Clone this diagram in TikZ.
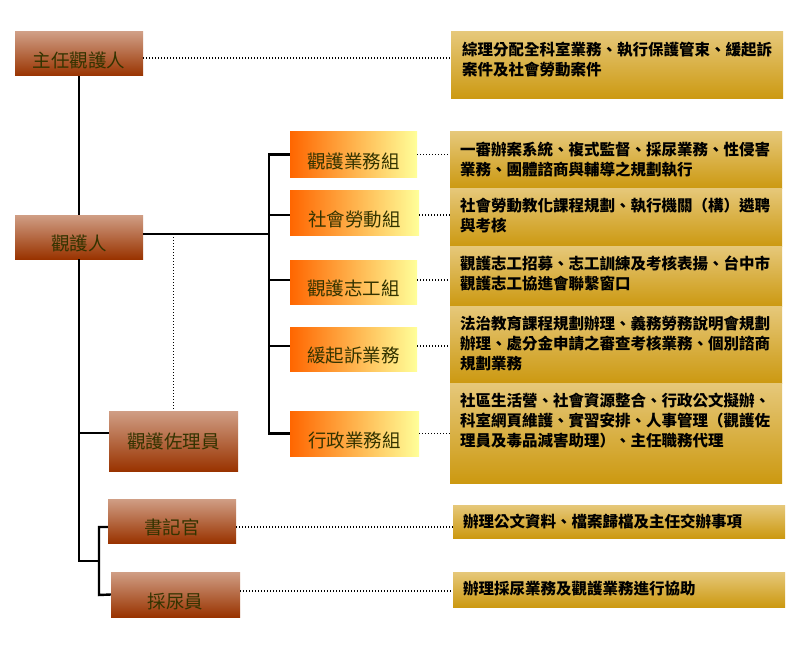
\documentclass[tikz,border=0pt]{standalone}
\usepackage{fontspec}
\setmainfont{Noto Sans CJK TC}
\definecolor{brtop}{RGB}{208,158,133}
\definecolor{brbot}{RGB}{153,51,0}
\definecolor{orl}{RGB}{255,102,0}
\definecolor{orr}{RGB}{255,255,153}
\definecolor{gdtop}{RGB}{230,200,122}
\definecolor{gdbot}{RGB}{204,153,17}
\definecolor{labtext}{RGB}{51,51,0}
\begin{document}
\begin{tikzpicture}[x=1pt,y=-1pt,
  trunk/.style={line width=2.4pt, black},
  dotline/.style={line width=1.3pt, black, dash pattern=on 1.2pt off 1.8pt},
  brownbox/.style={rectangle, inner sep=0pt, top color=brtop, bottom color=brbot, text=labtext, font=\fontsize{18.5}{20}\selectfont},
  orangebox/.style={rectangle, inner sep=0pt, left color=orl, right color=orr, text=labtext, font=\fontsize{18.5}{20}\selectfont},
  lowtext/.style={text height=29pt, text depth=2pt},
  goldbox/.style={rectangle, inner sep=0pt, top color=gdtop, bottom color=gdbot},
  goldtext/.style={anchor=north west, inner sep=0pt, align=left, text=black, font=\bfseries\fontsize{15.5}{20}\selectfont}
]
\fill[white] (0,0) rectangle (800,650);
\useasboundingbox (0,0) rectangle (800,650);

% left column boxes
\node[brownbox, lowtext, minimum width=128pt, minimum height=44pt] (boss) at (79,54) {主任觀護人};
\node[brownbox, lowtext, minimum width=128pt, minimum height=44pt] (po) at (79,237) {觀護人};
\node[brownbox, minimum width=129pt, minimum height=60pt] (asst) at (173.5,441) {觀護佐理員};
\node[brownbox, lowtext, minimum width=128pt, minimum height=44pt] (clerk) at (172,521) {書記官};
\node[brownbox, lowtext, minimum width=129pt, minimum height=45pt] (urine) at (175.5,594.5) {採尿員};

% group boxes
\node[orangebox, lowtext, minimum width=127pt, minimum height=45pt] (g1) at (353.5,154.5) {觀護業務組};
\node[orangebox, lowtext, minimum width=129pt, minimum height=45pt] (g2) at (354.5,212.5) {社會勞動組};
\node[orangebox, lowtext, minimum width=127pt, minimum height=44pt] (g3) at (353.5,282) {觀護志工組};
\node[orangebox, lowtext, minimum width=127pt, minimum height=44pt] (g4) at (353.5,349) {緩起訴業務};
\node[orangebox, lowtext, minimum width=129pt, minimum height=45pt] (g5) at (354.5,433.5) {行政業務組};

% description boxes
\node[goldbox, minimum width=332pt, minimum height=67pt] (d0) at (617,65.5) {};
\node[goldbox, minimum width=332pt, minimum height=56pt] (d1) at (616,160) {};
\node[goldbox, minimum width=332pt, minimum height=58pt] (d2) at (616,217) {};
\node[goldbox, minimum width=332pt, minimum height=60pt] (d3) at (616,276) {};
\node[goldbox, minimum width=332pt, minimum height=77pt] (d4) at (616,344.5) {};
\node[goldbox, minimum width=332pt, minimum height=100pt] (d5) at (616,433) {};
\node[goldbox, minimum width=332pt, minimum height=33pt] (d6) at (619,521.5) {};
\node[goldbox, minimum width=332pt, minimum height=35pt] (d7) at (619,589.5) {};

\node[goldtext] (t0) at ([xshift=11pt,yshift=-10pt]d0.north west) {綜理分配全科室業務、執行保護管束、緩起訴\\案件及社會勞動案件};
\node[goldtext] (t1) at ([xshift=10pt,yshift=-10pt]d1.north west) {一審辦案系統、複式監督、採尿業務、性侵害\\業務、團體諮商與輔導之規劃執行};
\node[goldtext] (t2) at ([xshift=10pt,yshift=-10pt]d2.north west) {社會勞動教化課程規劃、執行機關（構）遴聘\\與考核};
\node[goldtext] (t3) at ([xshift=10pt,yshift=-10pt]d3.north west) {觀護志工招募、志工訓練及考核表揚、台中市\\觀護志工協進會聯繫窗口};
\node[goldtext] (t4) at ([xshift=10pt,yshift=-10pt]d4.north west) {法治教育課程規劃辦理、義務勞務說明會規劃\\辦理、處分金申請之審查考核業務、個別諮商\\規劃業務};
\node[goldtext] (t5) at ([xshift=10pt,yshift=-10pt]d5.north west) {社區生活營、社會資源整合、行政公文擬辦、\\科室網頁維護、實習安排、人事管理（觀護佐\\理員及毒品減害助理）、主任職務代理};
\node[goldtext] (t6) at ([xshift=10pt,yshift=-9pt]d6.north west) {辦理公文資料、檔案歸檔及主任交辦事項};
\node[goldtext] (t7) at ([xshift=10pt,yshift=-9pt]d7.north west) {辦理採尿業務及觀護業務進行協助};

% helper coordinates
\coordinate (bus) at (269,0);
\coordinate (bj) at (99,561);
\coordinate (bt) at (99,527);
\coordinate (bb) at (99,595);
\coordinate (poout) at ([yshift=3pt]po.east);
\coordinate (asstin) at ([yshift=8pt]asst.west);
\coordinate (bossout) at ([yshift=-4pt]boss.east);
\coordinate (clerkin) at ([yshift=-6pt]clerk.west);
\coordinate (clerkout) at ([yshift=-6pt]clerk.east);
\coordinate (urineout) at ([yshift=3.5pt]urine.east);
\coordinate (g1in) at (g1.west);
\coordinate (g2in) at ([yshift=-2.5pt]g2.west);
\coordinate (g3in) at ([yshift=2pt]g3.west);
\coordinate (g4in) at ([yshift=3pt]g4.west);
\coordinate (g5in) at (g5.west);

% solid connectors
\draw[trunk] (boss.south) -- (po.north);
\draw[trunk] (po.south) -- (po.south |- bj) -- (bj);
\draw[trunk] (asstin -| po.south) -- (asstin);
\draw[trunk] (clerkin) -- (bt) -- (bb) -- (urine.west);
\draw[trunk] (poout) -- (poout -| bus);
\draw[trunk] (g1in) -- (g1in -| bus) -- (g5in -| bus) -- (g5in);
\draw[trunk] (g2in -| bus) -- (g2in);
\draw[trunk] (g3in -| bus) -- (g3in);
\draw[trunk] (g4in -| bus) -- (g4in);

% dotted connectors
\draw[dotline] (bossout) -- (bossout -| d0.west);
\draw[dotline] (g1in -| g1.east) -- (g1in -| d1.west);
\draw[dotline] (g2in -| g2.east) -- (g2in -| d2.west);
\draw[dotline] (g3in -| g3.east) -- (g3in -| d3.west);
\draw[dotline] (g4in -| g4.east) -- (g4in -| d4.west);
\draw[dotline] (g5in -| g5.east) -- (g5in -| d5.west);
\draw[dotline] ([yshift=-3pt]asst.north |- poout) -- (asst.north);
\draw[dotline] (clerkout) -- (clerkout -| d6.west);
\draw[dotline] (urineout) -- (urineout -| d7.west);
\end{tikzpicture}
\end{document}
